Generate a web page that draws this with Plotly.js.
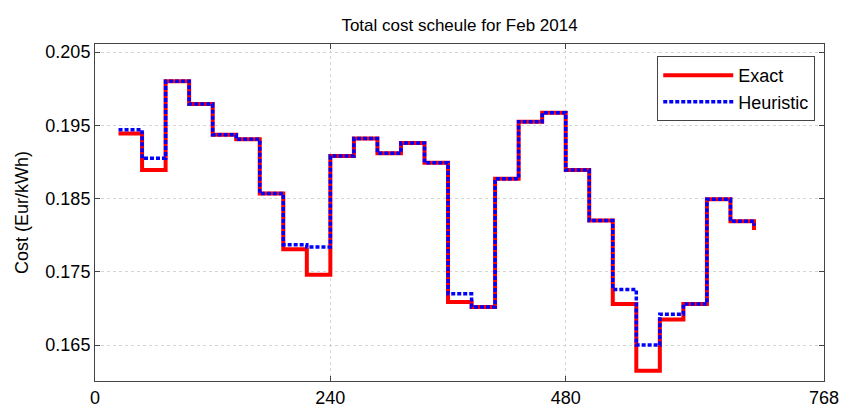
<!DOCTYPE html>
<html>
<head>
<meta charset="utf-8">
<script src="https://cdn.plot.ly/plotly-3.0.1.min.js"></script>
<style>html,body{margin:0;padding:0;background:#fff;}#chart{width:843px;height:414px;}</style>
</head>
<body>
<div id="chart"></div>
<script>
// Hour of the month at which each daily price step starts
var hours = [24, 48, 72, 96, 120, 144, 168, 192, 216, 240, 264, 288, 312, 336,
             360, 384, 408, 432, 456, 480, 504, 528, 552, 576, 600, 624, 648, 672];

var exactCost = [0.1939, 0.1889, 0.2010, 0.1979, 0.1937, 0.1931, 0.1857, 0.1781,
                 0.1746, 0.1908, 0.1932, 0.1912, 0.1926, 0.1899, 0.1709, 0.1702,
                 0.1877, 0.1955, 0.1967, 0.1889, 0.1820, 0.1706, 0.1615, 0.1685,
                 0.1706, 0.1849, 0.1819, 0.1807];

var heuristicCost = [0.1944, 0.1905, 0.2010, 0.1979, 0.1937, 0.1931, 0.1857, 0.1787,
                     0.1784, 0.1908, 0.1932, 0.1912, 0.1926, 0.1899, 0.1720, 0.1702,
                     0.1877, 0.1955, 0.1967, 0.1889, 0.1820, 0.1726, 0.1650, 0.1692,
                     0.1706, 0.1849, 0.1819, 0.1813];

var xTickVals = [0, 240, 480, 743.4];
var xTickText = ['0', '240', '480', '768'];
var yTickVals = [0.165, 0.175, 0.185, 0.195, 0.205];
var yTickText = ['0.165', '0.175', '0.185', '0.195', '0.205'];

var traces = [
  {x: hours, y: exactCost, name: 'Exact', mode: 'lines',
   line: {shape: 'hv', color: '#ff0000', width: 4}},
  {x: hours, y: heuristicCost, name: 'Heuristic', mode: 'lines',
   line: {shape: 'hv', color: '#0000ff', width: 3.5, dash: '4px,2px'}}
];

var fam = 'Liberation Sans, Arial, sans-serif';

var layout = {
  width: 843, height: 414,
  margin: {l: 95, r: 19, t: 44, b: 33},
  paper_bgcolor: '#fff', plot_bgcolor: '#fff',
  font: {family: fam, color: '#000', size: 18},
  title: {text: 'Total cost scheule for Feb 2014', font: {family: fam, size: 17, color: '#000'},
          x: 0.5, xref: 'paper', xanchor: 'center', y: 0.955, yref: 'container'},
  showlegend: true,
  legend: {x: 0.988, xanchor: 'right', y: 0.964, yanchor: 'top',
           bgcolor: '#fff', bordercolor: '#444', borderwidth: 1,
           font: {family: fam, size: 18, color: '#000'},
           tracegroupgap: 0, itemwidth: 70},
  xaxis: {range: [0, 743.4], tickmode: 'array', tickvals: xTickVals, ticktext: xTickText,
          showline: true, linecolor: '#444', linewidth: 1, mirror: 'ticks',
          ticks: 'inside', ticklen: 5, tickcolor: '#444',
          showgrid: true, gridcolor: '#d4d4d4', gridwidth: 1, griddash: 'dot',
          zeroline: false, tickfont: {family: fam, size: 18, color: '#000'}},
  yaxis: {range: [0.1601, 0.2061], tickmode: 'array', tickvals: yTickVals, ticktext: yTickText,
          showline: true, linecolor: '#444', linewidth: 1, mirror: 'ticks',
          ticks: 'inside', ticklen: 5, tickcolor: '#444',
          showgrid: true, gridcolor: '#d4d4d4', gridwidth: 1, griddash: 'dot',
          zeroline: false, tickfont: {family: fam, size: 18, color: '#000'},
          title: {text: 'Cost (Eur/kWh)', font: {family: fam, size: 18, color: '#000'}, standoff: 12}}
};

Plotly.newPlot('chart', traces, layout, {displayModeBar: false, staticPlot: true});
</script>
</body>
</html>
